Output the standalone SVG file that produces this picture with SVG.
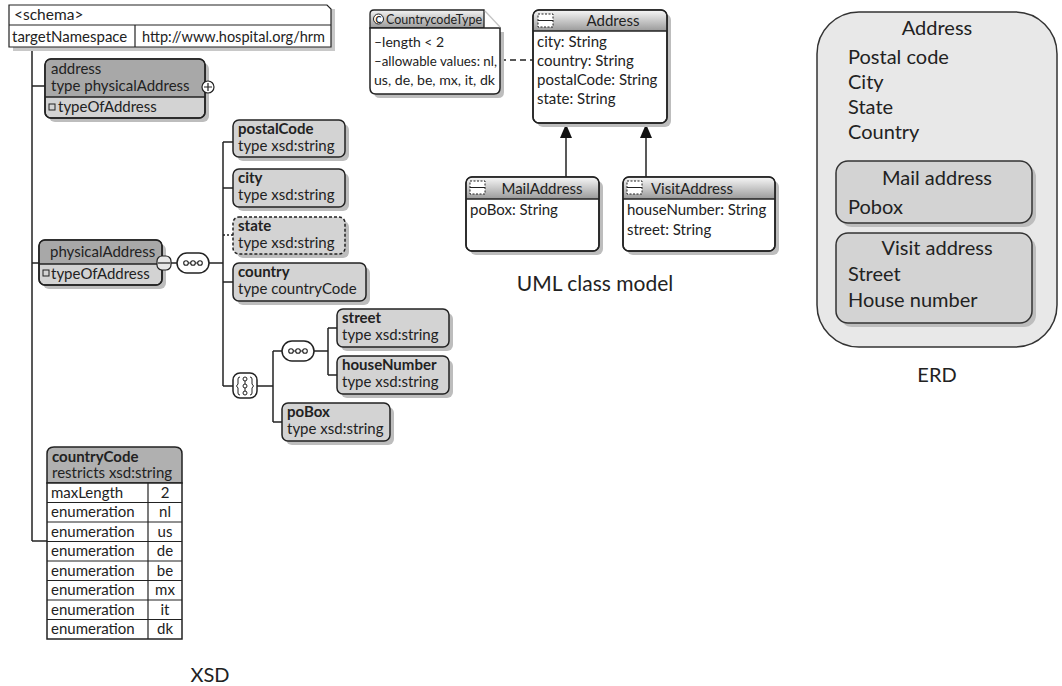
<svg xmlns="http://www.w3.org/2000/svg" width="1062" height="686" viewBox="0 0 1062 686">
<defs>
<linearGradient id="hdr" x1="0" y1="0" x2="0" y2="1">
<stop offset="0" stop-color="#f4f4f4"/>
<stop offset="1" stop-color="#9a9a9a"/>
</linearGradient>
</defs>
<style>
text{font-family:Lato,"Open Sans","Liberation Sans",sans-serif;fill:#222}
.t{font-size:15px}
.s{font-size:14px}
.b{font-weight:bold;font-size:15px}
.big{font-size:20px}
.ln{stroke:#222;stroke-width:1.5;fill:none}
.box{fill:#d3d3d3;stroke:#222;stroke-width:1.5}
.dk{fill:#a8a8a8}
.sh{fill:#bdbdbd}
.wb{fill:#fff;stroke:#222;stroke-width:1.5}
.ol{fill:none;stroke:#222;stroke-width:1.5}
.mid{text-anchor:middle}
</style>

<g id="connectors">
<line class="ln" x1="32" y1="47" x2="32" y2="541"/>
<line class="ln" x1="32" y1="86" x2="45" y2="86"/>
<line class="ln" x1="32" y1="263" x2="39" y2="263"/>
<line class="ln" x1="32" y1="541" x2="47" y2="541"/>
<line class="ln" x1="171" y1="263" x2="177" y2="263"/>
<line class="ln" x1="209" y1="263" x2="223" y2="263"/>
<line class="ln" x1="223" y1="142" x2="223" y2="386"/>
<line class="ln" x1="223" y1="142" x2="233" y2="142"/>
<line class="ln" x1="223" y1="188" x2="233" y2="188"/>
<line class="ln" x1="223" y1="235" x2="233" y2="235" stroke-dasharray="2,2"/>
<line class="ln" x1="223" y1="282" x2="233" y2="282"/>
<line class="ln" x1="223" y1="386" x2="233" y2="386"/>
<line class="ln" x1="257" y1="386" x2="273" y2="386"/>
<line class="ln" x1="273" y1="351" x2="273" y2="422"/>
<line class="ln" x1="273" y1="351" x2="282" y2="351"/>
<line class="ln" x1="273" y1="422" x2="282" y2="422"/>
<line class="ln" x1="314" y1="351" x2="328" y2="351"/>
<line class="ln" x1="328" y1="328" x2="328" y2="375"/>
<line class="ln" x1="328" y1="328" x2="337" y2="328"/>
<line class="ln" x1="328" y1="375" x2="337" y2="375"/>
<line class="ln" x1="500" y1="60" x2="533" y2="60" stroke-dasharray="6,4"/>
<line class="ln" x1="566" y1="137" x2="566" y2="177"/>
<line class="ln" x1="646" y1="137" x2="646" y2="177"/>
<polygon points="566,124 560,138 572,138" fill="#111"/>
<polygon points="646,124 640,138 652,138" fill="#111"/>
</g>

<g id="schema">
<rect x="13" y="9" width="322" height="42" fill="#c8c8c8"/>
<path d="M9,5 H327 L331,9 V47 H9 Z" fill="#fff" stroke="#222" stroke-width="1.2"/>
<line x1="9" y1="25" x2="331" y2="25" stroke="#222" stroke-width="1.2"/>
<line x1="135" y1="25" x2="135" y2="47" stroke="#222" stroke-width="1.2"/>
<text x="14" y="20" style="font-size:15.5px">&lt;schema&gt;</text>
<text class="t" x="12" y="42">targetNamespace</text>
<text class="t" x="142" y="42" textLength="183" lengthAdjust="spacingAndGlyphs">http://www.hospital.org/hrm</text>
</g>

<g id="address-el">
<rect class="sh" x="49" y="63" width="160" height="59" rx="6"/>
<rect class="box" x="45" y="59" width="160" height="59" rx="6"/>
<path class="dk" d="M45.8,97 V65 Q45.8,59.8 51,59.8 H199 Q204.2,59.8 204.2,65 V97 Z"/>
<line class="ln" x1="45" y1="97" x2="205" y2="97"/>
<rect class="ol" x="45" y="59" width="160" height="59" rx="6"/>
<text class="t" x="51" y="74">address</text>
<text class="t" x="51" y="91">type physicalAddress</text>
<rect x="49" y="104" width="6" height="6" fill="none" stroke="#222" stroke-width="1"/>
<text class="t" x="58" y="112">typeOfAddress</text>
<circle cx="208" cy="87" r="6" fill="#fff" stroke="#222" stroke-width="1.2"/>
<path d="M204,87 H212 M208,83 V91" stroke="#222" stroke-width="1.2"/>
</g>

<g id="physicalAddress">
<rect class="sh" x="43" y="244" width="123" height="45" rx="6"/>
<rect class="box" x="39" y="240" width="123" height="45" rx="6"/>
<path class="dk" d="M39.8,264 V246 Q39.8,240.8 45,240.8 H156 Q161.2,240.8 161.2,246 V264 Z"/>
<line class="ln" x1="39" y1="264" x2="162" y2="264"/>
<rect class="ol" x="39" y="240" width="123" height="45" rx="6"/>
<text class="t" x="50" y="257">physicalAddress</text>
<rect x="43" y="270" width="6" height="6" fill="none" stroke="#222" stroke-width="1"/>
<text class="t" x="51" y="279">typeOfAddress</text>
<rect x="157" y="256" width="14" height="14" rx="5" fill="#e6e6e6" stroke="#222" stroke-width="1.2"/>
<line x1="158" y1="263" x2="170" y2="263" stroke="#222" stroke-width="1.2"/>
</g>

<g id="seq1">
<rect class="wb" x="177" y="253" width="32" height="20" rx="10" stroke-width="1.8"/>
<line x1="186" y1="263" x2="200" y2="263" stroke="#222" stroke-width="1"/>
<circle cx="186" cy="263" r="2.3" fill="#fff" stroke="#222" stroke-width="1.1"/>
<circle cx="193" cy="263" r="2.3" fill="#fff" stroke="#222" stroke-width="1.1"/>
<circle cx="200" cy="263" r="2.3" fill="#fff" stroke="#222" stroke-width="1.1"/>
</g>

<g id="postalCode">
<rect class="sh" x="237" y="124" width="112" height="37" rx="6"/>
<rect class="box" x="233" y="120" width="112" height="37" rx="6"/>
<text class="b" x="238" y="134">postalCode</text>
<text class="t" x="238" y="151">type xsd:string</text>
</g>
<g id="city">
<rect class="sh" x="237" y="173" width="112" height="38" rx="6"/>
<rect class="box" x="233" y="169" width="112" height="38" rx="6"/>
<text class="b" x="238" y="183">city</text>
<text class="t" x="238" y="200">type xsd:string</text>
</g>
<g id="state">
<rect class="sh" x="237" y="221" width="112" height="37" rx="6"/>
<rect class="box" x="233" y="217" width="112" height="37" rx="6" stroke-dasharray="3,2"/>
<text class="b" x="238" y="231">state</text>
<text class="t" x="238" y="248">type xsd:string</text>
</g>
<g id="country">
<rect class="sh" x="237" y="267" width="133" height="38" rx="6"/>
<rect class="box" x="233" y="263" width="133" height="38" rx="6"/>
<text class="b" x="238" y="277">country</text>
<text class="t" x="238" y="294">type countryCode</text>
</g>

<g id="choice">
<rect class="wb" x="233" y="373" width="24" height="25" rx="7" stroke-width="1.8"/>
<line x1="245" y1="378" x2="245" y2="393" stroke="#222" stroke-width="1"/>
<circle cx="245" cy="379" r="2" fill="#fff" stroke="#222" stroke-width="1"/>
<circle cx="245" cy="386" r="2" fill="#fff" stroke="#222" stroke-width="1"/>
<circle cx="245" cy="393" r="2" fill="#fff" stroke="#222" stroke-width="1"/>
<path d="M240,377 Q238,377 238,379 V384 L236.5,386 L238,388 V393 Q238,395 240,395" fill="none" stroke="#222" stroke-width="1"/>
<path d="M250,377 Q252,377 252,379 V384 L253.5,386 L252,388 V393 Q252,395 250,395" fill="none" stroke="#222" stroke-width="1"/>
</g>

<g id="seq2">
<rect class="wb" x="282" y="341" width="32" height="20" rx="10" stroke-width="1.8"/>
<line x1="291" y1="351" x2="305" y2="351" stroke="#222" stroke-width="1"/>
<circle cx="291" cy="351" r="2.3" fill="#fff" stroke="#222" stroke-width="1.1"/>
<circle cx="298" cy="351" r="2.3" fill="#fff" stroke="#222" stroke-width="1.1"/>
<circle cx="305" cy="351" r="2.3" fill="#fff" stroke="#222" stroke-width="1.1"/>
</g>

<g id="street">
<rect class="sh" x="341" y="313" width="112" height="38" rx="6"/>
<rect class="box" x="337" y="309" width="112" height="38" rx="6"/>
<text class="b" x="342" y="323">street</text>
<text class="t" x="342" y="340">type xsd:string</text>
</g>
<g id="houseNumber">
<rect class="sh" x="341" y="360" width="112" height="38" rx="6"/>
<rect class="box" x="337" y="356" width="112" height="38" rx="6"/>
<text class="b" x="342" y="370">houseNumber</text>
<text class="t" x="342" y="387">type xsd:string</text>
</g>
<g id="poBox">
<rect class="sh" x="286" y="407" width="108" height="38" rx="6"/>
<rect class="box" x="282" y="403" width="108" height="38" rx="6"/>
<text class="b" x="287" y="417">poBox</text>
<text class="t" x="287" y="434">type xsd:string</text>
</g>

<g id="countryCode">
<path d="M47,483 V454 Q47,447 54,447 H175 Q182,447 182,454 V483 Z" fill="#b0b0b0" stroke="#222" stroke-width="1.5"/>
<rect x="47" y="483" width="135" height="156" fill="#fff" stroke="#222" stroke-width="1.5"/>
<g stroke="#222" stroke-width="1.2">
<line x1="47" y1="502.5" x2="182" y2="502.5"/>
<line x1="47" y1="522" x2="182" y2="522"/>
<line x1="47" y1="541.5" x2="182" y2="541.5"/>
<line x1="47" y1="561" x2="182" y2="561"/>
<line x1="47" y1="580.5" x2="182" y2="580.5"/>
<line x1="47" y1="600" x2="182" y2="600"/>
<line x1="47" y1="619.5" x2="182" y2="619.5"/>
<line x1="148" y1="483" x2="148" y2="639"/>
</g>
<text class="b" x="52" y="462">countryCode</text>
<text class="t" x="52" y="478">restricts xsd:string</text>
<text class="t" x="51" y="498">maxLength</text>
<text class="t" x="51" y="517">enumeration</text>
<text class="t" x="51" y="537">enumeration</text>
<text class="t" x="51" y="556">enumeration</text>
<text class="t" x="51" y="576">enumeration</text>
<text class="t" x="51" y="595">enumeration</text>
<text class="t" x="51" y="615">enumeration</text>
<text class="t" x="51" y="634">enumeration</text>
<text class="t mid" x="165" y="498">2</text>
<text class="t mid" x="165" y="517">nl</text>
<text class="t mid" x="165" y="537">us</text>
<text class="t mid" x="165" y="556">de</text>
<text class="t mid" x="165" y="576">be</text>
<text class="t mid" x="165" y="595">mx</text>
<text class="t mid" x="165" y="615">it</text>
<text class="t mid" x="165" y="634">dk</text>
</g>

<text class="big mid" x="210" y="682">XSD</text>

<g id="CountrycodeType">
<path d="M374,32 H504 V92 Q504,98 498,98 H380 Q374,98 374,92 Z" fill="#bdbdbd"/>
<path d="M370,28 V14 Q370,10 374,10 H484 V28 Z" fill="url(#hdr)" stroke="#222" stroke-width="1.3"/>
<path d="M370,28 H500 V88 Q500,94 494,94 H376 Q370,94 370,88 Z" fill="#fff" stroke="#222" stroke-width="1.5"/>
<line x1="485" y1="11" x2="500" y2="27" stroke="#c4c4c4" stroke-width="1.2"/>
<circle cx="378.5" cy="19" r="5" fill="#fff" stroke="#222" stroke-width="1"/>
<text x="378.5" y="22.5" style="font-size:9px;font-weight:bold" class="mid">C</text>
<text class="s" x="386" y="24" textLength="96" lengthAdjust="spacingAndGlyphs">CountrycodeType</text>
<text class="s" x="374" y="47">–length &lt; 2</text>
<text class="s" x="374" y="66" textLength="123" lengthAdjust="spacingAndGlyphs">–allowable values: nl,</text>
<text class="s" x="374" y="85" textLength="121" lengthAdjust="spacingAndGlyphs">us, de, be, mx, it, dk</text>
</g>

<g id="Address">
<rect class="sh" x="537" y="14" width="134" height="113" rx="6"/>
<rect class="wb" x="533" y="10" width="134" height="113" rx="6"/>
<path d="M533.8,31 V16 Q533.8,10.8 539,10.8 H661 Q666.2,10.8 666.2,16 V31 Z" fill="url(#hdr)"/>
<line class="ln" x1="533" y1="31" x2="667" y2="31"/>
<rect class="ol" x="533" y="10" width="134" height="113" rx="6"/>
<rect x="538" y="14" width="15" height="13" fill="#fff" stroke="#222" stroke-width="1" stroke-dasharray="2,1.5"/>
<line x1="538" y1="20.5" x2="553" y2="20.5" stroke="#222" stroke-width="1"/>
<text class="t mid" x="613" y="26">Address</text>
<text class="t" x="537" y="47">city: String</text>
<text class="t" x="537" y="66">country: String</text>
<text class="t" x="537" y="85">postalCode: String</text>
<text class="t" x="537" y="104">state: String</text>
</g>

<g id="MailAddress">
<rect class="sh" x="470" y="181" width="133" height="74" rx="6"/>
<rect class="wb" x="466" y="177" width="133" height="74" rx="6"/>
<path d="M466.8,199 V183 Q466.8,177.8 472,177.8 H593 Q598.2,177.8 598.2,183 V199 Z" fill="url(#hdr)"/>
<line class="ln" x1="466" y1="199" x2="599" y2="199"/>
<rect class="ol" x="466" y="177" width="133" height="74" rx="6"/>
<rect x="470" y="181" width="15" height="13" fill="#fff" stroke="#222" stroke-width="1" stroke-dasharray="2,1.5"/>
<line x1="470" y1="187.5" x2="485" y2="187.5" stroke="#222" stroke-width="1"/>
<text class="t mid" x="542" y="194">MailAddress</text>
<text class="t" x="470" y="215">poBox: String</text>
</g>

<g id="VisitAddress">
<rect class="sh" x="627" y="181" width="152" height="74" rx="6"/>
<rect class="wb" x="623" y="177" width="152" height="74" rx="6"/>
<path d="M623.8,199 V183 Q623.8,177.8 629,177.8 H769 Q774.2,177.8 774.2,183 V199 Z" fill="url(#hdr)"/>
<line class="ln" x1="623" y1="199" x2="775" y2="199"/>
<rect class="ol" x="623" y="177" width="152" height="74" rx="6"/>
<rect x="627" y="181" width="15" height="13" fill="#fff" stroke="#222" stroke-width="1" stroke-dasharray="2,1.5"/>
<line x1="627" y1="187.5" x2="642" y2="187.5" stroke="#222" stroke-width="1"/>
<text class="t mid" x="692" y="194">VisitAddress</text>
<text class="t" x="627" y="215">houseNumber: String</text>
<text class="t" x="627" y="235">street: String</text>
</g>

<text class="mid" x="595" y="291" style="font-size:21px">UML class model</text>

<g id="erd-address">
<rect x="817" y="12" width="240" height="335" rx="42" fill="#e8e8e8" stroke="#333" stroke-width="1.5"/>
<text class="big mid" x="937" y="35">Address</text>
<text class="big" x="848" y="64">Postal code</text>
<text class="big" x="848" y="89">City</text>
<text class="big" x="848" y="114">State</text>
<text class="big" x="848" y="139">Country</text>
</g>
<g id="erd-mail">
<rect x="840" y="165" width="196" height="62" rx="12" fill="#bdbdbd"/>
<rect x="836" y="161" width="196" height="62" rx="12" fill="#d3d3d3" stroke="#333" stroke-width="1.5"/>
<text class="big mid" x="937" y="185">Mail address</text>
<text class="big" x="848" y="214">Pobox</text>
</g>
<g id="erd-visit">
<rect x="840" y="237" width="196" height="90" rx="12" fill="#bdbdbd"/>
<rect x="836" y="233" width="196" height="90" rx="12" fill="#d3d3d3" stroke="#333" stroke-width="1.5"/>
<text class="big mid" x="937" y="255">Visit address</text>
<text class="big" x="848" y="281">Street</text>
<text class="big" x="848" y="307">House number</text>
</g>
<text class="big mid" x="937" y="382">ERD</text>
</svg>
